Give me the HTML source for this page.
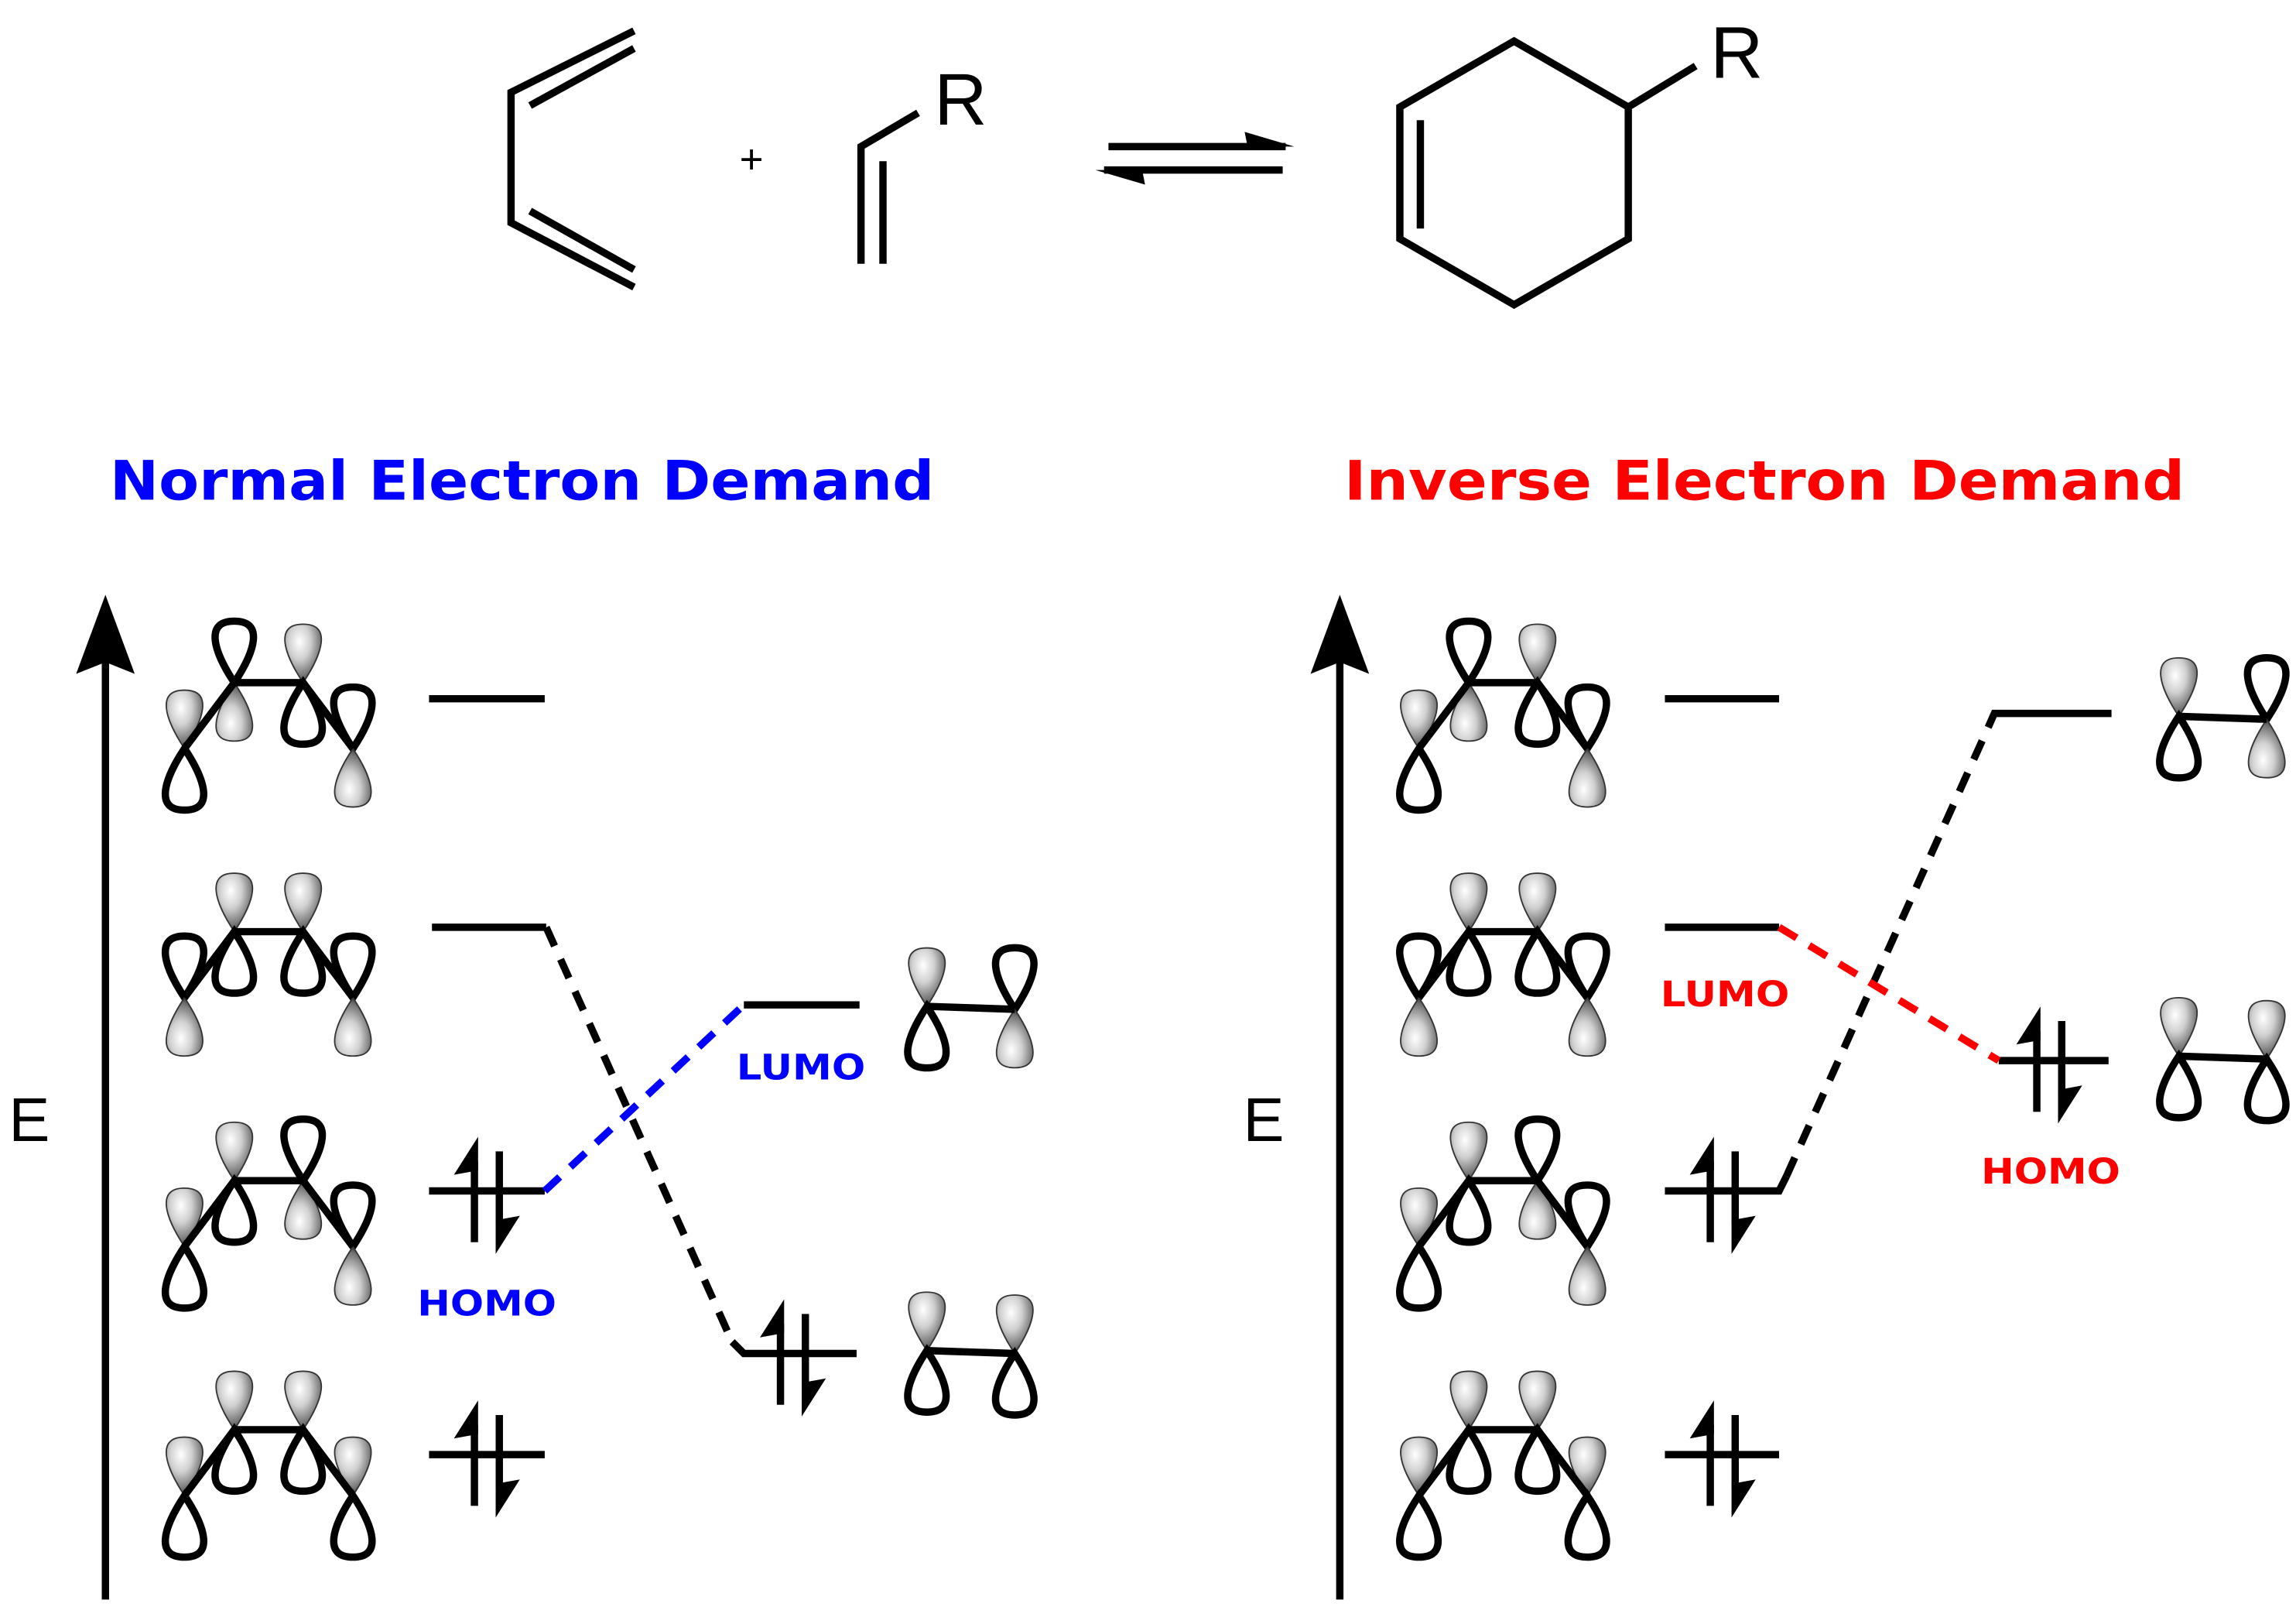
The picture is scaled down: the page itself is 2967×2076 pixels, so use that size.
<!DOCTYPE html>
<html><head><meta charset="utf-8"><style>html,body{margin:0;padding:0;background:#fff}svg{display:block}</style></head>
<body>
<svg width="2967" height="2076" viewBox="0 0 1568 1097" xmlns="http://www.w3.org/2000/svg" xmlns:xlink="http://www.w3.org/1999/xlink">
<defs>
<radialGradient id="g" cx="0.4" cy="0.3" r="0.75">
<stop offset="0" stop-color="#ffffff"/><stop offset="0.4" stop-color="#d0d0d0"/><stop offset="0.8" stop-color="#707070"/><stop offset="1" stop-color="#222"/>
</radialGradient>
<path id="lobe" d="M0,0 C-4,-6 -12,-19 -13,-29 C-14,-39 -8,-42 0,-42 C8,-42 14,-39 13,-29 C12,-19 4,-6 0,0Z"/>
<g id="sU"><use xlink:href="#lobe" fill="url(#g)" stroke="#333" stroke-width="1" transform="scale(0.95)"/></g>
<g id="sD"><use xlink:href="#lobe" fill="url(#g)" stroke="#333" stroke-width="1" transform="scale(0.95,-0.95)"/></g>
<g id="oU"><use xlink:href="#lobe" fill="none" stroke="#000" stroke-width="5"/></g>
<g id="oD"><use xlink:href="#lobe" fill="none" stroke="#000" stroke-width="5" transform="scale(1,-1)"/></g>
<g id="S"><use xlink:href="#sU"/><use xlink:href="#oD"/></g>
<g id="O"><use xlink:href="#oU"/><use xlink:href="#sD"/></g>
<g id="e">
<rect x="28.5" y="-20" width="5" height="55"/><polygon points="33.5,-37 33.5,-14 17,-11"/>
<rect x="45.5" y="-27" width="5" height="50"/><polygon points="45.5,43 45.5,20 62,17"/>
</g>
<path id="bd" d="M0,45 L34,0 L81,0 L115,45" fill="none" stroke="#000" stroke-width="5"/>
</defs>

<g stroke="#000" stroke-width="5" fill="none">
<path d="M433,21 L349,63 L349,152 L433,196"/>
<path d="M362,72 L433,33"/>
<path d="M362,144 L433,184"/>
<path d="M588,180 L588,100 L627,77"/>
<path d="M603,110 L603,180"/>
<path d="M757,100 L878,100"/>
<path d="M754,116 L876,116"/>
<path d="M1034,28 L1112,73 L1112,163 L1034,208 L956,163 L956,73 Z"/>
<path d="M970,82 L970,156"/>
<path d="M1112,73 L1158,45"/>
</g>
<polygon points="884,100 850,90 852,100" fill="#000"/>
<polygon points="748,116 782,126 780,116" fill="#000"/>
<text x="505" y="118" font-family="Liberation Sans, sans-serif" font-size="28">+</text>
<text x="638" y="85" font-family="Liberation Sans, sans-serif" font-size="50">R</text>
<text x="1168" y="53" font-family="Liberation Sans, sans-serif" font-size="50">R</text>

<text x="75" y="341" font-family="DejaVu Sans, sans-serif" font-weight="bold" font-size="37" fill="#0000ff" textLength="563" lengthAdjust="spacingAndGlyphs">Normal Electron Demand</text>
<text x="918" y="341" font-family="DejaVu Sans, sans-serif" font-weight="bold" font-size="37" fill="#ff0000" textLength="574" lengthAdjust="spacingAndGlyphs">Inverse Electron Demand</text>

<g stroke="#000" stroke-width="5"><line x1="72" y1="1092" x2="72" y2="440"/><line x1="915" y1="1092" x2="915" y2="440"/></g>
<polygon points="72,406 52,460 72,452 92,460" fill="#000"/>
<polygon points="915,406 895,460 915,452 935,460" fill="#000"/>
<text x="6" y="779" font-family="Liberation Sans, sans-serif" font-size="42">E</text>
<text x="849" y="779" font-family="Liberation Sans, sans-serif" font-size="42">E</text>

<use xlink:href="#S" x="126" y="511"/><use xlink:href="#O" x="160" y="466"/><use xlink:href="#S" x="207" y="466"/><use xlink:href="#O" x="241" y="511"/><use xlink:href="#bd" x="126" y="466"/>
<use xlink:href="#O" x="126" y="681"/><use xlink:href="#S" x="160" y="636"/><use xlink:href="#S" x="207" y="636"/><use xlink:href="#O" x="241" y="681"/><use xlink:href="#bd" x="126" y="636"/>
<use xlink:href="#S" x="126" y="851"/><use xlink:href="#S" x="160" y="806"/><use xlink:href="#O" x="207" y="806"/><use xlink:href="#O" x="241" y="851"/><use xlink:href="#bd" x="126" y="806"/>
<use xlink:href="#S" x="126" y="1021"/><use xlink:href="#S" x="160" y="976"/><use xlink:href="#S" x="207" y="976"/><use xlink:href="#S" x="241" y="1021"/><use xlink:href="#bd" x="126" y="976"/>
<use xlink:href="#S" x="969" y="511"/><use xlink:href="#O" x="1003" y="466"/><use xlink:href="#S" x="1050" y="466"/><use xlink:href="#O" x="1084" y="511"/><use xlink:href="#bd" x="969" y="466"/>
<use xlink:href="#O" x="969" y="681"/><use xlink:href="#S" x="1003" y="636"/><use xlink:href="#S" x="1050" y="636"/><use xlink:href="#O" x="1084" y="681"/><use xlink:href="#bd" x="969" y="636"/>
<use xlink:href="#S" x="969" y="851"/><use xlink:href="#S" x="1003" y="806"/><use xlink:href="#O" x="1050" y="806"/><use xlink:href="#O" x="1084" y="851"/><use xlink:href="#bd" x="969" y="806"/>
<use xlink:href="#S" x="969" y="1021"/><use xlink:href="#S" x="1003" y="976"/><use xlink:href="#S" x="1050" y="976"/><use xlink:href="#S" x="1084" y="1021"/><use xlink:href="#bd" x="969" y="976"/>

<use xlink:href="#S" x="633" y="687"/><use xlink:href="#O" x="693" y="689"/><line x1="633" y1="687" x2="693" y2="689" stroke="#000" stroke-width="5"/>
<use xlink:href="#S" x="633" y="922"/><use xlink:href="#S" x="693" y="924"/><line x1="633" y1="922" x2="693" y2="924" stroke="#000" stroke-width="5"/>
<use xlink:href="#S" x="1488" y="489"/><use xlink:href="#O" x="1548" y="491"/><line x1="1488" y1="489" x2="1548" y2="491" stroke="#000" stroke-width="5"/>
<use xlink:href="#S" x="1488" y="721"/><use xlink:href="#S" x="1548" y="723"/><line x1="1488" y1="721" x2="1548" y2="723" stroke="#000" stroke-width="5"/>

<g stroke="#000" stroke-width="5" fill="none">
<line x1="293" y1="477" x2="372" y2="477"/>
<path d="M295,633 L373,633"/>
<line x1="293" y1="813" x2="372" y2="813"/>
<line x1="293" y1="993" x2="372" y2="993"/>
<line x1="508" y1="686" x2="587" y2="686"/>
<path d="M500,916 L508,924 L585,924"/>
<line x1="1137" y1="477" x2="1215" y2="477"/>
<line x1="1137" y1="633" x2="1215" y2="633"/>
<path d="M1137,813 L1215,813 L1220,803"/>
<line x1="1137" y1="993" x2="1215" y2="993"/>
<path d="M1358,496 L1362,487 L1442,487"/>
<line x1="1365" y1="724" x2="1440" y2="724"/>
</g>
<use xlink:href="#e" x="293" y="813"/>
<use xlink:href="#e" x="293" y="993"/>
<use xlink:href="#e" x="502" y="924"/>
<use xlink:href="#e" x="1137" y="813"/>
<use xlink:href="#e" x="1137" y="993"/>
<use xlink:href="#e" x="1360" y="724"/>

<g stroke-width="5" fill="none" stroke-dasharray="14 10">
<path d="M373,633 L500,916" stroke="#000"/>
<path d="M372,813 L508,686" stroke="#0000ff"/>
<path d="M1220,803 L1358,496" stroke="#000"/>
<path d="M1215,633 L1365,724" stroke="#ff0000"/>
</g>

<g font-family="DejaVu Sans, sans-serif" font-weight="bold" font-size="24">
<text x="503" y="737" fill="#0000ff" textLength="88" lengthAdjust="spacingAndGlyphs">LUMO</text>
<text x="285" y="898" fill="#0000ff" textLength="95" lengthAdjust="spacingAndGlyphs">HOMO</text>
<text x="1134" y="687" fill="#ff0000" textLength="88" lengthAdjust="spacingAndGlyphs">LUMO</text>
<text x="1353" y="808" fill="#ff0000" textLength="95" lengthAdjust="spacingAndGlyphs">HOMO</text>
</g>
</svg>
</body></html>
